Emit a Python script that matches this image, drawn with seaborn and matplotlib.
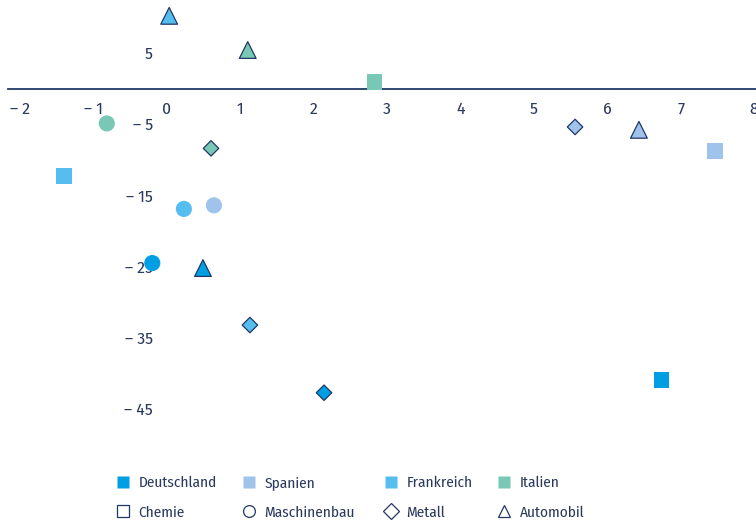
import matplotlib
matplotlib.use("Agg")
import matplotlib.pyplot as plt
from matplotlib.lines import Line2D
import seaborn as sns
import pandas as pd

# ---- data ----
countries = ["Deutschland", "Spanien", "Frankreich", "Italien"]
sectors = ["Chemie", "Maschinenbau", "Metall", "Automobil"]

# x, y per sector, in country order
chemie_x = [6.74, 7.47, -1.40, 2.83]
chemie_y = [-40.9, -8.8, -12.3, 0.9]
maschinenbau_x = [-0.20, 0.64, 0.23, -0.82]
maschinenbau_y = [-24.5, -16.4, -16.9, -4.9]
metall_x = [2.14, 5.56, 1.13, 0.60]
metall_y = [-42.7, -5.4, -33.2, -8.4]
automobil_x = [0.49, 6.43, 0.03, 1.10]
automobil_y = [-25.2, -5.8, 10.2, 5.4]

x_ticks = [-2, -1, 0, 1, 2, 3, 4, 5, 6, 7, 8]
y_ticks = [5, -5, -15, -25, -35, -45]

palette = {"Deutschland": "#009FE3", "Spanien": "#9FC3EA",
           "Frankreich": "#56BEEE", "Italien": "#79C7B5"}
navy = "#1F3864"
text_col = "#2B3A5C"

rows = []
for sec, xs, ys in [("Chemie", chemie_x, chemie_y),
                    ("Maschinenbau", maschinenbau_x, maschinenbau_y),
                    ("Metall", metall_x, metall_y),
                    ("Automobil", automobil_x, automobil_y)]:
    for c, xv, yv in zip(countries, xs, ys):
        rows.append({"Land": c, "Sektor": sec, "x": xv, "y": yv})
df = pd.DataFrame(rows)

sns.set_style("white")
plt.rcParams["font.family"] = ["Fira Sans Condensed", "Barlow Semi Condensed",
                               "DejaVu Sans"]

fig = plt.figure(figsize=(7.56, 5.24), dpi=100)
ax = fig.add_axes([8 / 756, 1 - 459 / 524, 748 / 756, 456 / 524])

styles = {
    "Chemie": dict(marker="s", s=125, edgecolor="none", linewidth=0),
    "Maschinenbau": dict(marker="o", s=135, edgecolor="none", linewidth=0),
    "Metall": dict(marker="D", s=62, edgecolor=navy, linewidth=0.9),
    "Automobil": dict(marker="^", s=145, edgecolor=navy, linewidth=0.9),
}
for sec in sectors:
    sub = df[df["Sektor"] == sec]
    sns.scatterplot(data=sub, x="x", y="y", hue="Land", palette=palette,
                    ax=ax, legend=False, zorder=3, clip_on=False, **styles[sec])

ax.set_xlim(-2.166, 8.025)
ax.set_ylim(-52, 12)

for s in ["top", "right"]:
    ax.spines[s].set_visible(False)
ax.spines["bottom"].set_position(("data", 0))
ax.spines["bottom"].set_color(navy)
ax.spines["bottom"].set_linewidth(1.3)
ax.spines["left"].set_position(("data", 0))
ax.spines["left"].set_visible(False)

def fmt(v):
    return f"\u2013 {abs(v)}" if v < 0 else f"{v}"

ax.set_xticks(x_ticks)
ax.set_xticklabels([fmt(v) for v in x_ticks])
ax.set_yticks(y_ticks)
ax.set_yticklabels([fmt(v) for v in y_ticks])
ax.tick_params(axis="x", length=0, pad=9, labelsize=12.5, colors=text_col)
ax.tick_params(axis="y", length=0, pad=10, labelsize=12.5, colors=text_col)
ax.set_xlabel("")
ax.set_ylabel("")
ax.grid(False)

# legend: one small legend per column
hollow = {"Chemie": "s", "Maschinenbau": "o", "Metall": "D", "Automobil": "^"}
hsize = {"Chemie": 9, "Maschinenbau": 8.5, "Metall": 8, "Automobil": 8.5}
col_x = [114, 240, 382, 495]
leg_font = {"family": ["Fira Sans Condensed", "DejaVu Sans"], "size": 11}
for cx, c, sec in zip(col_x, countries, sectors):
    handles = [
        Line2D([], [], linestyle="none", marker="s", markersize=8,
               markerfacecolor=palette[c], markeredgecolor="none"),
        Line2D([], [], linestyle="none", marker=hollow[sec],
               markersize=hsize[sec], markerfacecolor="white",
               markeredgecolor=navy, markeredgewidth=0.9),
    ]
    leg = fig.legend(handles, [c, sec], ncol=1, loc="upper left",
                     bbox_to_anchor=(cx / 756, 1 - 476 / 524), frameon=False,
                     prop=leg_font, handlelength=1.15, handletextpad=0.45,
                     labelspacing=1.0, borderpad=0, borderaxespad=0)
    for t in leg.get_texts():
        t.set_color(text_col)

fig.savefig("out.png", dpi=100)
